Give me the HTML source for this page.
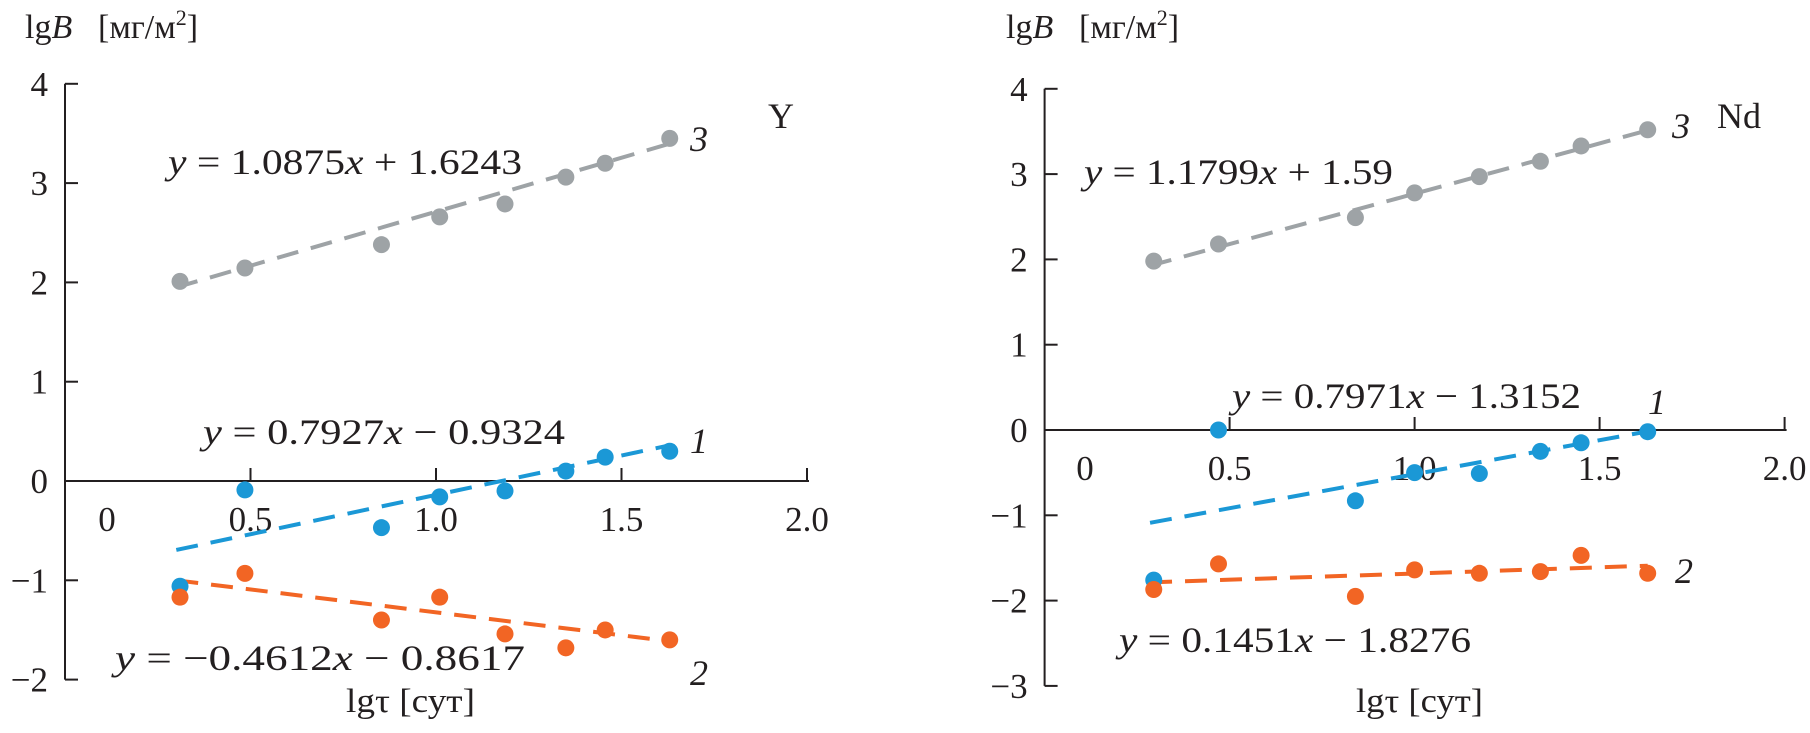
<!DOCTYPE html>
<html><head><meta charset="utf-8">
<style>
html,body{margin:0;padding:0;background:#fff;}
svg{display:block;font-family:"Liberation Serif",serif;}
text{fill:#231f20;font-family:"Liberation Serif",serif;}
</style></head>
<body>
<svg id="chart" width="1810" height="733" viewBox="0 0 1810 733" xmlns="http://www.w3.org/2000/svg"></svg>
<script>
// ---- data: left panel (Y) ----
const xValsY = [0.31, 0.485, 0.853, 1.01, 1.186, 1.35, 1.456, 1.63];
const grayY = [2.01, 2.145, 2.38, 2.66, 2.79, 3.06, 3.2, 3.45];
const blueY = [-1.06, -0.09, -0.47, -0.16, -0.1, 0.1, 0.24, 0.3];
const orangeY = [-1.17, -0.93, -1.4, -1.17, -1.54, -1.68, -1.5, -1.6];
const fitY = [[1.0875, 1.6243], [0.7927, -0.9324], [-0.4612, -0.8617]];
// ---- data: right panel (Nd) ----
const xValsNd = [0.295, 0.47, 0.84, 1.0, 1.175, 1.34, 1.45, 1.63];
const grayNd = [1.98, 2.18, 2.49, 2.78, 2.97, 3.15, 3.33, 3.52];
const blueNd = [-1.76, 0, -0.83, -0.5, -0.51, -0.25, -0.15, -0.02];
const orangeNd = [-1.87, -1.57, -1.95, -1.64, -1.68, -1.66, -1.47, -1.68];
const fitNd = [[1.1799, 1.59], [0.7971, -1.3152], [0.1451, -1.8276]];
const xTicks = ["0.5", "1.0", "1.5", "2.0"];
const xTickVals = [0.5, 1.0, 1.5, 2.0];
const yTicksY = [4, 3, 2, 1, 0, -1, -2];
const yTicksNd = [4, 3, 2, 1, 0, -1, -2, -3];

const svg = document.getElementById('chart');
const NS = 'http://www.w3.org/2000/svg';
const FONT = '"Liberation Serif", serif';
function el(tag, attrs, parent) {
  const e = document.createElementNS(NS, tag);
  for (const k in attrs) e.setAttribute(k, attrs[k]);
  if (tag === 'text') e.setAttribute('font-family', FONT);
  (parent || svg).appendChild(e);
  return e;
}
const GRAY = '#9ea3a6', BLUE = '#1b98d6', ORANGE = '#f26524';

function panel(cfg) {
  const g = el('g', {});
  
  
  const sx = v => cfg.x0 + v * cfg.ux;
  const sy = v => cfg.y0 - v * cfg.uy;
  const ya = el('line', {x1: cfg.x0, x2: cfg.x0, y1: sy(cfg.yTicks[0]), y2: sy(cfg.yTicks[cfg.yTicks.length - 1]), stroke: '#231f20', 'stroke-width': 2}, g);
  
  
  const xa = el('line', {x1: cfg.x0, x2: sx(2.0) + 2, y1: cfg.y0, y2: cfg.y0, stroke: '#231f20', 'stroke-width': 2}, g);
  
  
  cfg.yTicks.forEach(t => {
    el('line', {x1: cfg.x0, x2: cfg.x0 + 13, y1: sy(t), y2: sy(t), stroke: '#231f20', 'stroke-width': 2}, g);
    const tx = el('text', {x: cfg.x0 - 17, y: sy(t) + 12, 'font-size': 35, 'text-anchor': 'end'}, g);
    tx.textContent = t < 0 ? '\u2212' + Math.abs(t) : String(t);
    
    
  });
  xTickVals.forEach((v, i) => {
    el('line', {x1: sx(v), x2: sx(v), y1: cfg.y0, y2: cfg.y0 - 13, stroke: '#231f20', 'stroke-width': 2}, g);
    const tx = el('text', {x: sx(v), y: cfg.y0 + 50, 'font-size': 35, 'text-anchor': 'middle'}, g);
    tx.textContent = xTicks[i];
    
    
  });
  const z = el('text', {x: cfg.zeroX, y: cfg.y0 + 50, 'font-size': 35, 'text-anchor': 'middle'}, g);
  z.textContent = '0';
  
  
  const cols = [GRAY, BLUE, ORANGE];
  cfg.fits.forEach((f, i) => {
    const a = cfg.xs[0] - 0.01, b = cfg.xs[cfg.xs.length - 1];
    const ln = el('line', {x1: sx(a), y1: sy(f[0] * a + f[1]), x2: sx(b), y2: sy(f[0] * b + f[1]), stroke: cols[i], 'stroke-width': 4, 'stroke-dasharray': '22 13'}, g);
    
    
  });
  [cfg.gray, cfg.blue, cfg.orange].forEach((s, i) => {
    s.forEach((v, j) => {
      const c = el('circle', {cx: sx(cfg.xs[j]), cy: sy(v), r: 8.5, fill: cols[i]}, g);
      
      
    });
  });
  cfg.texts.forEach(t => {
    const tx = el('text', {x: t[0], y: t[1], 'font-size': t[3] || 36}, g);
    if (t[4]) { tx.setAttribute('textLength', t[4]); tx.setAttribute('lengthAdjust', 'spacingAndGlyphs'); }
    tx.innerHTML = t[2];
    
    
  });
}

panel({name: 'panel-y', x0: 65, y0: 481, ux: 371, uy: 99.3, yTicks: yTicksY, zeroX: 107,
  xs: xValsY, gray: grayY, blue: blueY, orange: orangeY, fits: fitY,
  texts: [
    [25, 38, 'lg<tspan font-style="italic">B</tspan>', 34, null, 'y-axis-title'],
    [98, 38, '[мг/м<tspan font-size="22" dy="-13">2</tspan><tspan dy="13">]</tspan>', 34, null, 'y-axis-unit'],
    [168, 174, '<tspan font-style="italic">y</tspan> = 1.0875<tspan font-style="italic">x</tspan> + 1.6243', 36, 354, 'equation-3'],
    [203, 444, '<tspan font-style="italic">y</tspan> = 0.7927<tspan font-style="italic">x</tspan> − 0.9324', 36, 362, 'equation-1'],
    [115, 670, '<tspan font-style="italic">y</tspan> = −0.4612<tspan font-style="italic">x</tspan> − 0.8617', 36, 410, 'equation-2'],
    [690, 151, '<tspan font-style="italic">3</tspan>', 36, null, 'series-label-3'],
    [690, 453, '<tspan font-style="italic">1</tspan>', 36, null, 'series-label-1'],
    [690, 685, '<tspan font-style="italic">2</tspan>', 36, null, 'series-label-2'],
    [768, 128, 'Y', 36, null, 'element-label'],
    [346, 712, 'lgτ [сут]', 34, 129, 'x-axis-title']
  ]});

panel({name: 'panel-nd', x0: 1044.6, y0: 430, ux: 370, uy: 85.3, yTicks: yTicksNd, zeroX: 1085,
  xs: xValsNd, gray: grayNd, blue: blueNd, orange: orangeNd, fits: fitNd,
  texts: [
    [1006, 38, 'lg<tspan font-style="italic">B</tspan>', 34, null, 'y-axis-title'],
    [1079, 38, '[мг/м<tspan font-size="22" dy="-13">2</tspan><tspan dy="13">]</tspan>', 34, null, 'y-axis-unit'],
    [1084, 184, '<tspan font-style="italic">y</tspan> = 1.1799<tspan font-style="italic">x</tspan> + 1.59', 36, 309, 'equation-3'],
    [1232, 408, '<tspan font-style="italic">y</tspan> = 0.7971<tspan font-style="italic">x</tspan> − 1.3152', 36, 349, 'equation-1'],
    [1119, 652, '<tspan font-style="italic">y</tspan> = 0.1451<tspan font-style="italic">x</tspan> − 1.8276', 36, 352, 'equation-2'],
    [1672, 138, '<tspan font-style="italic">3</tspan>', 36, null, 'series-label-3'],
    [1648, 414, '<tspan font-style="italic">1</tspan>', 36, null, 'series-label-1'],
    [1675, 583, '<tspan font-style="italic">2</tspan>', 36, null, 'series-label-2'],
    [1717, 128, 'Nd', 36, null, 'element-label'],
    [1356, 712, 'lgτ [сут]', 34, 127, 'x-axis-title']
  ]});
</script>
</body></html>
